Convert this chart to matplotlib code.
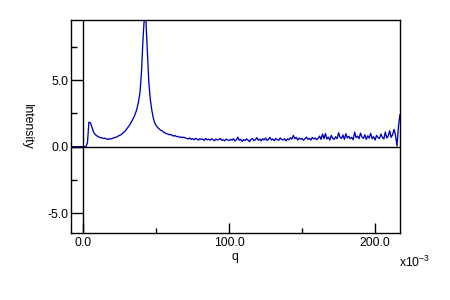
import numpy as np
import matplotlib
matplotlib.use("Agg")
import matplotlib.pyplot as plt
from matplotlib.ticker import FixedLocator

plt.rcParams['font.family'] = ['Liberation Sans', 'DejaVu Sans']
plt.rcParams['mathtext.default'] = 'regular'

# q starts at -8 (x10^-3), one sample per unit
q_start = -8
intensity = [
    0.0, 0.0, 0.0, 0.0, 0.0, 0.0, 0.0, 0.0, 0.0, 0.0, 0.0,
    0.3, 1.85, 1.8, 1.5, 1.15, 0.95, 0.85, 0.78, 0.72, 0.68,
    0.66, 0.62, 0.64, 0.58, 0.55, 0.6, 0.58, 0.62, 0.66, 0.7,
    0.72, 0.8, 0.85, 0.9, 1.0, 1.1, 1.2, 1.35, 1.5, 1.65,
    1.85, 2.05, 2.25, 2.55, 2.9, 3.4, 4.1, 5.6, 8.0, 9.8,
    9.6, 7.2, 4.9, 3.6, 2.8, 2.2, 1.8, 1.6, 1.45, 1.35,
    1.25, 1.2, 1.1, 1.05, 0.98, 0.95, 0.9, 0.92, 0.85, 0.8,
    0.84, 0.75, 0.78, 0.7, 0.74, 0.68, 0.72, 0.65,
    # 71 - 100
    0.62, 0.58, 0.66, 0.55, 0.6, 0.52, 0.63, 0.57, 0.5, 0.61,
    0.54, 0.58, 0.47, 0.62, 0.52, 0.56, 0.49, 0.6, 0.53, 0.45,
    0.58, 0.5, 0.55, 0.62, 0.48, 0.53, 0.44, 0.57, 0.51, 0.46,
    # 101 - 130
    0.55, 0.49, 0.6, 0.43, 0.52, 0.72, 0.48, 0.56, 0.4, 0.53,
    0.47, 0.58, 0.5, 0.38, 0.55, 0.62, 0.46, 0.52, 0.68, 0.49,
    0.57, 0.44, 0.6, 0.51, 0.65, 0.47, 0.56, 0.7, 0.5, 0.58,
    # 131 - 160
    0.45, 0.62, 0.53, 0.48, 0.66, 0.55, 0.5, 0.6, 0.44, 0.58,
    0.52, 0.68, 0.57, 0.85, 0.6, 0.7, 0.5, 0.65, 0.56, 0.62,
    0.48, 0.6, 0.72, 0.55, 0.63, 0.5, 0.7, 0.58, 0.66, 0.52,
    # 161 - 190
    0.62, 0.8, 0.55, 0.95, 0.6, 1.0, 0.58, 0.72, 0.5, 0.85,
    0.62, 0.55, 0.75, 0.6, 1.05, 0.7, 0.62, 0.88, 0.55, 0.98,
    0.65, 0.78, 0.6, 0.7, 0.52, 1.1, 0.68, 0.8, 0.6, 1.02,
    # 191 - 217
    0.72, 0.62, 0.9, 0.55, 0.82, 0.65, 1.0, 0.6, 0.75, 0.5,
    0.85, 0.68, 0.62, 0.95, 0.7, 0.58, 1.1, 0.65, 0.8, 1.2,
    0.7, 0.9, 1.3, 0.85, 0.05, 1.5, 2.4,
]
q = q_start + np.arange(len(intensity))

x_major = [0, 100, 200]
x_minor = [50, 150]
y_major = [-5, 0, 5]
y_minor = [-2.5, 2.5, 7.5]

fig = plt.figure(figsize=(4.5, 3), dpi=100)
ax = fig.add_axes([0.158, 0.223, 0.731, 0.709])

ax.plot(q, intensity, color="#0000bb", linewidth=0.95)
ax.axhline(0, color="black", linewidth=1.0)
ax.axvline(0, color="black", linewidth=1.0)

ax.set_xlim(-8.2, 217.1)
ax.set_ylim(-6.5, 9.5)

ax.xaxis.set_major_locator(FixedLocator(x_major))
ax.xaxis.set_minor_locator(FixedLocator(x_minor))
ax.yaxis.set_major_locator(FixedLocator(y_major))
ax.yaxis.set_minor_locator(FixedLocator(y_minor))
ax.set_xticklabels([f"{v:.1f}" for v in x_major])
ax.set_yticklabels([f"{v:.1f}" for v in y_major])

ax.tick_params(axis="x", which="major", direction="in", length=7.2, width=1.0, pad=3, labelsize=8.8)
ax.tick_params(axis="x", which="minor", direction="in", length=3.6, width=1.0)
ax.tick_params(axis="y", which="major", direction="in", length=8.6, width=1.0, pad=2, labelsize=8.8)
ax.tick_params(axis="y", which="minor", direction="in", length=4.3, width=1.0)

for s in ax.spines.values():
    s.set_linewidth(1.0)

fig.text(235 / 450, 1 - 257 / 300, "q", ha="center", va="center", fontsize=8.8)
fig.text(27 / 450, 1 - 127 / 300, "Intensity", ha="center", va="center", rotation=270, fontsize=8.8)
fig.text(399 / 450, 1 - 262 / 300, "x10$^{-3}$", ha="left", va="center", fontsize=8.8)

fig.savefig("out.png", dpi=100)
